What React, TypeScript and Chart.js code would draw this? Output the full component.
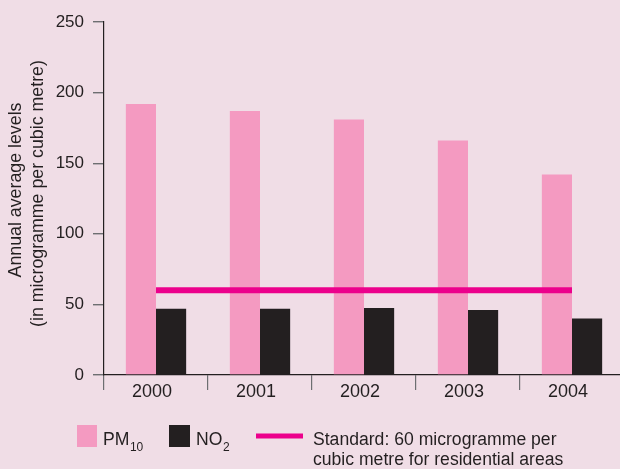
import React, { useEffect, useRef } from 'react';
import { Chart, registerables } from 'chart.js';

Chart.register(...registerables);

// Annual average pollutant levels (microgramme per cubic metre)
const years = ['2000', '2001', '2002', '2003', '2004'];
const pm10 = [192, 187, 181, 166, 142];
const no2 = [47, 47, 47.5, 46, 40];
const standardLevel = [60, 60, 60, 60, 60];
const yAxisTitle = ['Annual average levels', '(in microgramme per cubic metre)'];
const standardLabel = ['Standard: 60 microgramme per', 'cubic metre for residential areas'];

const BG = '#f0dde6';
const PINK = '#f49ac1';
const DARK = '#231f20';
const MAGENTA = '#ec008c';
const TICK_GREY = '#6d6e71';
const FONT = "'Liberation Sans', Arial, Helvetica, sans-serif";

// Rotated two-line y-axis title, placed in the space left of the axis.
const yTitle = {
  id: 'yTitle',
  afterDraw(chart: any) {
    const ctx: CanvasRenderingContext2D = chart.ctx;
    ctx.save();
    ctx.fillStyle = DARK;
    ctx.font = `17.8px ${FONT}`;
    ctx.textAlign = 'center';
    ctx.textBaseline = 'middle';
    const xs = [16.5, 38.5];
    const ys = [190, 193.5];
    yAxisTitle.forEach((line, i) => {
      ctx.save();
      ctx.translate(xs[i], ys[i]);
      ctx.rotate(-Math.PI / 2);
      ctx.fillText(line, 0, 0);
      ctx.restore();
    });
    ctx.restore();
  },
};

// Draws the key below the plot, with subscripted pollutant names.
const bottomLegend = {
  id: 'bottomLegend',
  afterDraw(chart: any) {
    const ctx: CanvasRenderingContext2D = chart.ctx;
    const size = 17.6;
    ctx.save();
    ctx.textBaseline = 'alphabetic';
    ctx.textAlign = 'left';

    const drawSub = (x: number, main: string, sub: string) => {
      ctx.fillStyle = DARK;
      ctx.font = `${size}px ${FONT}`;
      ctx.fillText(main, x, 445);
      const w = ctx.measureText(main).width;
      ctx.font = `12px ${FONT}`;
      ctx.fillText(sub, x + w + 0.5, 450.5);
    };

    ctx.fillStyle = PINK;
    ctx.fillRect(77, 425, 20, 22);
    drawSub(103, 'PM', '10');

    ctx.fillStyle = DARK;
    ctx.fillRect(169, 425, 21, 22);
    drawSub(196, 'NO', '2');

    ctx.strokeStyle = MAGENTA;
    ctx.lineWidth = 5;
    ctx.lineCap = 'butt';
    ctx.beginPath();
    ctx.moveTo(256, 436);
    ctx.lineTo(303, 436);
    ctx.stroke();

    ctx.fillStyle = DARK;
    ctx.font = `${size}px ${FONT}`;
    ctx.fillText(standardLabel[0], 313, 445);
    ctx.fillText(standardLabel[1], 313, 465);
    ctx.restore();
  },
};

export default function App() {
  const ref = useRef<HTMLCanvasElement>(null);

  useEffect(() => {
    if (!ref.current) return;
    Chart.defaults.font.family = FONT;
    const chart = new Chart(ref.current, {
      type: 'bar',
      data: {
        labels: years,
        datasets: [
          {
            type: 'line',
            label: 'Standard',
            data: standardLevel,
            borderColor: MAGENTA,
            borderWidth: 6,
            borderCapStyle: 'butt',
            pointRadius: 0,
            fill: false,
            order: 0,
          } as any,
          {
            label: 'PM10',
            data: pm10,
            backgroundColor: PINK,
            barPercentage: 1,
            categoryPercentage: 0.58,
            order: 1,
          },
          {
            label: 'NO2',
            data: no2,
            backgroundColor: DARK,
            barPercentage: 1,
            categoryPercentage: 0.58,
            order: 1,
          },
        ],
      },
      options: {
        animation: false,
        responsive: false,
        devicePixelRatio: 1,
        layout: { padding: { left: 0, right: 8, top: 22, bottom: 64 } },
        plugins: {
          legend: { display: false },
          tooltip: { enabled: false },
        },
        scales: {
          x: {
            type: 'category',
            offset: true,
            afterFit(scale: any) {
              scale.height = 30;
            },
            grid: {
              offset: true,
              drawOnChartArea: false,
              drawTicks: true,
              tickLength: 15,
              color: TICK_GREY,
              lineWidth: 1.2,
            },
            border: { display: true, color: DARK, width: 1.2 },
            ticks: {
              font: { size: 18, family: FONT },
              color: DARK,
              padding: -9,
              labelOffset: -4,
              maxRotation: 0,
            },
          },
          y: {
            min: 0,
            max: 250,
            afterFit(scale: any) {
              scale.width = 104;
            },
            grid: {
              drawOnChartArea: false,
              drawTicks: true,
              tickLength: 11,
              color: TICK_GREY,
              lineWidth: 1.4,
            },
            border: { display: true, color: DARK, width: 1.2 },
            ticks: {
              stepSize: 50,
              font: { size: 17, family: FONT },
              color: DARK,
              padding: 9,
            },
            title: { display: false },
          },
        },
      },
      plugins: [yTitle, bottomLegend],
    } as any);
    return () => chart.destroy();
  }, []);

  return (
    <div
      style={{
        position: 'fixed',
        left: 0,
        top: 0,
        width: 620,
        height: 469,
        overflow: 'hidden',
        background: BG,
      }}
    >
      <canvas ref={ref} width={632} height={469} style={{ display: 'block', width: 632, height: 469 }} />
    </div>
  );
}
